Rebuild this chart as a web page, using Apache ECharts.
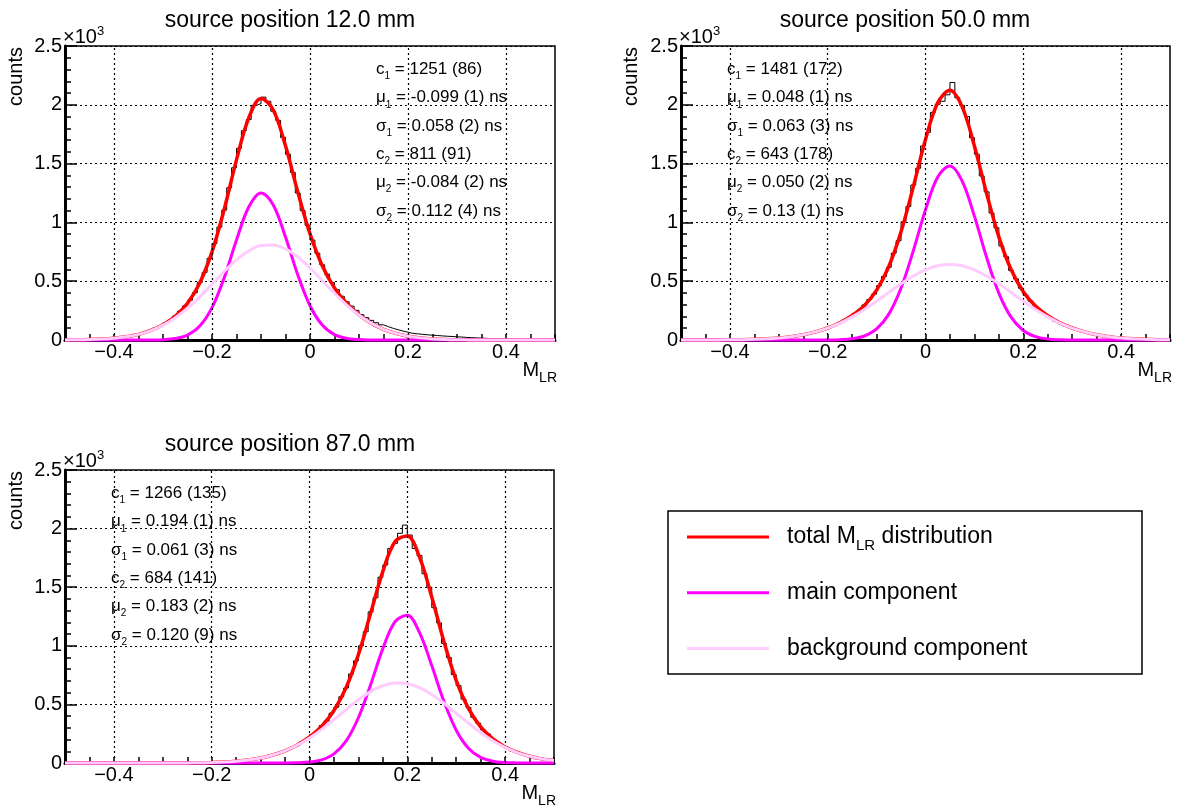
<!DOCTYPE html>
<html><head><meta charset="utf-8">
<script src="https://cdn.jsdelivr.net/npm/echarts@6/dist/echarts.min.js"></script>
<style>html,body{margin:0;padding:0;background:#fff}#c{width:1178px;height:812px}</style>
</head><body><div id="c"></div>
<script>
// ---------- data ----------
const titles = ['source position 12.0 mm', 'source position 50.0 mm', 'source position 87.0 mm'];
const seriesNames = ['total M_LR distribution', 'main component', 'background component'];
const xTickValues = [-0.4, -0.2, 0, 0.2, 0.4];
const xTickLabels = ['\u22120.4', '\u22120.2', '0', '0.2', '0.4'];
const yTickValues = [0, 500, 1000, 1500, 2000, 2500];
const yTickLabels = ['0', '0.5', '1', '1.5', '2', '2.5'];

// histogram: 100 bins of width 0.01 from -0.5 to 0.5
const binLow = -0.5, binWidth = 0.01;
const hist12 = [2,3,2,4,5,6,8,11,13,16, 21,26,33,40,47,58,70,86,104,122,
  146,170,205,246,290,338,402,490,575,695, 820,960,1105,1295,1465,1630,1780,1875,1995,2010,
  2065,2030,1945,1868,1722,1580,1425,1250,1100,975, 850,738,640,560,488,428,372,325,288,252,
  215,190,167,147,129,113,99,87,76,66, 57,52,48,44,41,38,35,32,30,27,
  25,22,20,18,16,14,12,10,9,8, 7,6,5,4,4,3,3,2,2,2];
const hist50 = [0,0,0,0,1,0,1,1,2,1, 2,3,3,4,6,7,8,11,13,16,
  20,24,27,35,42,50,58,70,83,96, 112,125,150,172,190,226,252,298,344,390,
  462,540,618,738,845,1005,1135,1318,1460,1650, 1765,1935,2005,2030,2085,2190,2060,1995,1900,1720,
  1580,1395,1260,1080,955,800,708,590,520,440, 378,330,282,248,215,188,160,140,122,105,
  90,78,65,56,47,40,33,27,22,18, 15,12,10,8,6,5,4,3,3,2];
const hist87 = [0,0,0,0,0,0,0,0,0,0, 0,0,0,0,0,0,0,0,1,0,
  1,1,2,2,2,3,4,5,7,8, 10,12,14,16,19,22,27,30,36,44,
  50,58,70,80,97,112,135,150,182,205, 242,270,320,358,425,476,565,640,760,872,
  1000,1120,1290,1410,1585,1690,1830,1875,1960,2030, 1945,1830,1770,1615,1500,1325,1195,1020,900,755,
  660,545,475,390,340,282,248,200,178,145, 128,100,92,74,66,50,45,34,30,22];

// fit curves sampled every 0.025 from -0.5 to 0.5 (41 points)
const curveLow = -0.5, curveStep = 0.025;
const total12 = [0.8,1.8,3.9,7.9,15,28,48,81,129,202,312,485,749,1113,1532,1889,2054,1956,1651,1260,
  903,632,443,310,214,143,91,56,32,18,9.5,4.8,2.3,1,0.4,0.2,0.1,0,0,0,0];
const main12 = [0,0,0,0,0,0,0.1,0.6,3,12,42,118,275,530,850,1131,1251,1148,876,554,
  291,127,46,14,3.5,0.7,0.1,0,0,0,0,0,0,0,0,0,0,0,0,0,0];
const bg12 = [0.8,1.8,3.9,7.9,15,28,48,80,126,190,270,367,474,583,682,758,803,808,775,706,
  612,505,397,296,210,142,91,56,32,18,9.5,4.8,2.3,1.0,0.4,0.2,0.1,0,0,0,0];

const total50 = [0.1,0.2,0.4,0.8,1.6,3.1,5.7,10,17,28,45,69,102,147,208,294,424,625,920,1301,
  1705,2017,2123,1982,1650,1246,877,599,411,289,206,146,102,69,45,28,17,10,5.7,3.1,1.6];
const main50 = [0,0,0,0,0,0,0,0,0,0,0,0.1,0.6,2.8,10.6,34,94,220,442,757,
  1108,1386,1480,1351,1053,702,399,194,81,29,8.7,2.3,0.5,0.1,0,0,0,0,0,0,0];
const bg50 = [0.1,0.2,0.4,0.8,1.6,3.1,5.7,10,17,28,45,69,101,144,197,260,330,405,478,544,
  597,631,643,631,597,544,478,405,330,260,197,144,101,69,45,28,17,10,5.7,3.1,1.6];

const total87 = [0,0,0,0,0,0,0,0.1,0.2,0.5,1,2.1,4.2,8,14.6,25,42,68,104,154,
  222,314,448,645,925,1277,1635,1889,1937,1756,1416,1034,705,466,308,206,137,90,58,35,21];
const main87 = [0,0,0,0,0,0,0,0,0,0,0,0,0,0,0,0,0,0.1,0.4,2,
  8,27,78,189,386,668,976,1206,1260,1113,831,524,280,126,48,15.5,4.2,1,0.2,0,0];
const bg87 = [0,0,0,0,0,0,0,0.1,0.2,0.5,1,2.1,4.2,8,14.6,25,42,68,104,152,
  214,287,370,456,539,609,659,683,677,643,585,510,425,340,260,190,133,89,58,35,21];

const params12 = [['c','1',' = 1251 (86)'],['\u03bc','1',' = -0.099 (1) ns'],['\u03c3','1',' = 0.058 (2) ns'],
  ['c','2',' = 811 (91)'],['\u03bc','2',' = -0.084 (2) ns'],['\u03c3','2',' = 0.112 (4) ns']];
const params50 = [['c','1',' = 1481 (172)'],['\u03bc','1',' = 0.048 (1) ns'],['\u03c3','1',' = 0.063 (3) ns'],
  ['c','2',' = 643 (178)'],['\u03bc','2',' = 0.050 (2) ns'],['\u03c3','2',' = 0.13 (1) ns']];
const params87 = [['c','1',' = 1266 (135)'],['\u03bc','1',' = 0.194 (1) ns'],['\u03c3','1',' = 0.061 (3) ns'],
  ['c','2',' = 684 (141)'],['\u03bc','2',' = 0.183 (2) ns'],['\u03c3','2',' = 0.120 (9) ns']];

// ---------- layout / style ----------
const FF = "'Liberation Sans', Arial, Helvetica, sans-serif";
const COLORS = ['#ff0000', '#ff00ff', '#ffccff'];
const WIDTHS = [3.5, 3, 3];
const panels = [
  {hist: hist12, curves: [total12, main12, bg12], params: params12,
   box: {left: 65, top: 46, width: 490, height: 294}, titleX: 290, annX: 376, countsX: 16},
  {hist: hist50, curves: [total50, main50, bg50], params: params50,
   box: {left: 681, top: 46, width: 489, height: 294}, titleX: 905, annX: 727, countsX: 631},
  {hist: hist87, curves: [total87, main87, bg87], params: params87,
   box: {left: 65, top: 470, width: 489, height: 293}, titleX: 290, annX: 111, countsX: 16}
];

function xLabel(v) {
  for (let i = 0; i < xTickValues.length; i++) if (Math.abs(v - xTickValues[i]) < 1e-6) return xTickLabels[i];
  return '';
}
function yLabel(v) {
  for (let i = 0; i < yTickValues.length; i++) if (Math.abs(v - yTickValues[i]) < 1e-6) return yTickLabels[i];
  return '';
}

const grids = [], xAxes = [], yAxes = [], series = [], graphics = [];
panels.forEach((p, i) => {
  const b = p.box;
  grids.push({left: b.left, top: b.top, width: b.width, height: b.height, show: true,
    borderColor: '#000', borderWidth: 1.5, backgroundColor: 'transparent'});
  xAxes.push({type: 'value', gridIndex: i, min: -0.5, max: 0.5, interval: 0.05,
    axisLine: {show: true, onZero: false, lineStyle: {color: '#000', width: 3}},
    axisTick: {show: true, inside: true, length: 6, lineStyle: {color: '#000', width: 1.5}},
    axisLabel: {show: true, formatter: xLabel, color: '#000', fontSize: 20, fontFamily: FF, margin: 2,
      showMinLabel: true, showMaxLabel: true},
    splitLine: {show: false}, minorTick: {show: false}});
  yAxes.push({type: 'value', gridIndex: i, min: 0, max: 2500, interval: 500,
    axisLine: {show: true, onZero: false, lineStyle: {color: '#000', width: 3}},
    axisTick: {show: true, inside: true, length: 12, lineStyle: {color: '#000', width: 1.5}},
    minorTick: {show: true, splitNumber: 5, length: 6, lineStyle: {color: '#000', width: 1.5}},
    axisLabel: {show: true, formatter: yLabel, color: '#000', fontSize: 20, fontFamily: FF, margin: 3},
    splitLine: {show: true, lineStyle: {color: '#000', width: 1.2, type: [2, 3]}},
    minorSplitLine: {show: false}});

  // vertical grid lines at labelled x ticks
  series.push({name: 'gridlines', type: 'line', xAxisIndex: i, yAxisIndex: i, z: 1,
    data: [], silent: true, symbol: 'none',
    markLine: {silent: true, symbol: ['none', 'none'], animation: false, label: {show: false},
      lineStyle: {color: '#000', width: 1.2, type: [2, 3]},
      data: xTickValues.map(v => ({xAxis: v}))}});

  // histogram (step)
  const hd = p.hist.map((v, k) => [binLow + k * binWidth, v]);
  hd.push([binLow + p.hist.length * binWidth, p.hist[p.hist.length - 1]]);
  series.push({name: 'hist', type: 'line', xAxisIndex: i, yAxisIndex: i, step: 'end', z: 2,
    data: hd, showSymbol: false, symbol: 'none', lineStyle: {color: '#000', width: 1}, silent: true});

  // fit curves
  p.curves.forEach((arr, c) => {
    series.push({name: seriesNames[c], type: 'line', xAxisIndex: i, yAxisIndex: i, z: 3 + c,
      data: arr.map((v, k) => [curveLow + k * curveStep, v]), smooth: 0.35, clip: false,
      showSymbol: false, symbol: 'none', silent: true,
      itemStyle: {color: COLORS[c]}, lineStyle: {color: COLORS[c], width: WIDTHS[c]}});
  });

  // title
  graphics.push({type: 'text', x: p.titleX, y: b.top - 25,
    style: {text: titles[i], fill: '#000', font: '23px ' + FF, textAlign: 'center', textVerticalAlign: 'middle'}});
  // x10^3
  graphics.push({type: 'text', x: b.left - 2, y: b.top - 8.5,
    style: {text: '{a|\u00d710}{s|3}', textAlign: 'left', textVerticalAlign: 'middle',
      rich: {a: {fontSize: 20, fontFamily: FF, fill: '#000', lineHeight: 30},
             s: {fontSize: 13, fontFamily: FF, fill: '#000', lineHeight: 30, padding: [0, 0, 13, 0]}}}});
  // counts
  graphics.push({type: 'text', x: p.countsX, y: b.top + 1, rotation: Math.PI / 2,
    style: {text: 'counts', fill: '#000', font: '20px ' + FF, textAlign: 'right', textVerticalAlign: 'middle'}});
  // M_LR
  graphics.push({type: 'text', x: b.left + b.width + 2, y: b.top + b.height + 30,
    style: {text: '{a|M}{s|LR}', textAlign: 'right', textVerticalAlign: 'middle',
      rich: {a: {fontSize: 20, fontFamily: FF, fill: '#000', lineHeight: 36},
             s: {fontSize: 14, fontFamily: FF, fill: '#000', lineHeight: 36, padding: [16, 0, 0, 0]}}}});
  // parameters
  p.params.forEach((pr, r) => {
    graphics.push({type: 'text', x: p.annX, y: b.top + 23.5 + r * 28.3,
      style: {text: '{a|' + pr[0] + '}{s|' + pr[1] + '}{a|' + pr[2] + '}', textAlign: 'left', textVerticalAlign: 'middle',
        rich: {a: {fontSize: 17, fontFamily: FF, fill: '#000', lineHeight: 30},
               s: {fontSize: 10, fontFamily: FF, fill: '#000', lineHeight: 30, padding: [14, 0, 0, 0]}}}});
  });
});

// legend box
graphics.push({type: 'rect', shape: {x: 668, y: 511, width: 474, height: 163},
  style: {fill: 'none', stroke: '#000', lineWidth: 1.5}, z: 0});

const chart = echarts.init(document.getElementById('c'), null, {renderer: 'canvas'});
chart.setOption({
  backgroundColor: '#fff',
  animation: false,
  grid: grids, xAxis: xAxes, yAxis: yAxes, series: series,
  legend: {
    data: seriesNames, orient: 'vertical', left: 687, top: 519, padding: 0,
    itemWidth: 82, itemHeight: 3, itemGap: 19.8, icon: 'rect', selectedMode: false,
    formatter: n => n === seriesNames[0] ? '{n|total M}{s|LR}{n| distribution}' : '{n|' + n + '}',
    textStyle: {color: '#000', fontSize: 23, fontFamily: FF, lineHeight: 36, padding: [0, 0, 0, 13],
      rich: {n: {fontSize: 23, fontFamily: FF, color: '#000', lineHeight: 36},
             s: {fontSize: 15, fontFamily: FF, color: '#000', lineHeight: 36, padding: [18, 0, 0, 0]}}}
  },
  graphic: graphics
});
</script></body></html>
